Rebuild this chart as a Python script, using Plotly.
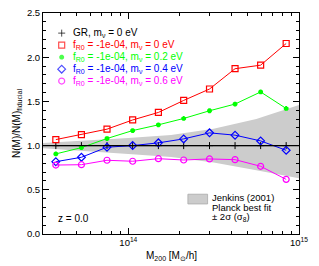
import plotly.graph_objects as go

# ---- data ----
mass = [3.76e13, 5.31e13, 7.50e13, 1.06e14, 1.50e14, 2.11e14, 2.99e14, 4.22e14, 5.96e14, 8.41e14]
ratio_gr = [1.0, 1.0, 1.0, 1.0, 1.0, 1.0, 1.0, 1.0, 1.0, 1.0]
ratio_m00 = [1.068, 1.125, 1.186, 1.29, 1.375, 1.511, 1.64, 1.87, 1.91, 2.155]
ratio_m02 = [0.906, 0.977, 1.08, 1.17, 1.235, 1.307, 1.394, 1.47, 1.607, 1.42]
ratio_m04 = [0.818, 0.868, 0.982, 1.0, 1.031, 1.076, 1.144, 1.118, 1.053, 0.947]
ratio_m06 = [0.78, 0.784, 0.834, 0.823, 0.852, 0.837, 0.849, 0.841, 0.766, 0.618]

band_mass = [3.16e13, 5.62e13, 1.0e14, 1.78e14, 3.16e14, 5.62e14, 1.0e15]
band_upper = [1.03, 1.055, 1.085, 1.12, 1.19, 1.30, 1.46]
band_lower = [0.97, 0.94, 0.905, 0.87, 0.81, 0.72, 0.63]

labels = [
    "GR, m<sub>ν</sub> = 0 eV",
    "f<sub>R0</sub> = -1e-04, m<sub>ν</sub> = 0 eV",
    "f<sub>R0</sub> = -1e-04, m<sub>ν</sub> = 0.2 eV",
    "f<sub>R0</sub> = -1e-04, m<sub>ν</sub> = 0.4 eV",
    "f<sub>R0</sub> = -1e-04, m<sub>ν</sub> = 0.6 eV",
]
colors = ["black", "#ff0000", "#00ff00", "#0000ff", "#ff00ff"]
symbols = ["cross-thin-open", "square-open", "asterisk-open", "diamond-open", "circle-open"]
series = [ratio_gr, ratio_m00, ratio_m02, ratio_m04, ratio_m06]

FONT = "Liberation Sans, Arial, sans-serif"
msize = [5, 6, 4, 6, 6]
mwidth = [1, 1.2, 2, 1.2, 1.2]

fig = go.Figure()

# Jenkins band
fig.add_trace(go.Scatter(x=band_mass, y=band_lower, mode="lines", line=dict(width=0, color="rgba(0,0,0,0)"),
                         showlegend=False, hoverinfo="skip"))
fig.add_trace(go.Scatter(x=band_mass, y=band_upper, mode="lines", line=dict(width=0, color="rgba(0,0,0,0)"),
                         fill="tonexty", fillcolor="#cccccc", showlegend=False, hoverinfo="skip"))

# reference line at 1
fig.add_shape(type="line", xref="paper", x0=0, x1=1, yref="y", y0=1, y1=1,
              line=dict(color="black", width=1.2))

for vals, col, sym, ms, mw in zip(series, colors, symbols, msize, mwidth):
    fig.add_trace(go.Scatter(
        x=mass, y=vals, mode="lines+markers",
        line=dict(color=col, width=1),
        marker=dict(symbol=sym, size=ms, color=col, line=dict(color=col, width=mw)),
        showlegend=False))

# custom legend markers on an overlay axis
leg_y = [0.909, 0.855, 0.800, 0.746, 0.692]
fig.add_trace(go.Scatter(
    x=[0.073] * 5, y=leg_y, xaxis="x2", yaxis="y2", mode="markers",
    marker=dict(symbol=symbols, size=msize, color=colors,
                line=dict(color=colors, width=mwidth)),
    showlegend=False, hoverinfo="skip"))

annotations = []
for lab, col, yy in zip(labels, colors, leg_y):
    annotations.append(dict(x=0.108, y=yy, xref="paper", yref="paper", text=lab, showarrow=False,
                            xanchor="left", yanchor="middle", font=dict(color=col, size=10, family=FONT)))

annotations.append(dict(x=0.052, y=0.071, xref="paper", yref="paper", text="z = 0.0", showarrow=False,
                        xanchor="left", yanchor="middle", font=dict(color="black", size=10, family=FONT)))

for txt, yy in zip(["Jenkins (2001)", "Planck best fit", "± 2σ (σ<sub>8</sub>)"], [0.167, 0.122, 0.079]):
    annotations.append(dict(x=0.653, y=yy, xref="paper", yref="paper", text=txt, showarrow=False,
                            xanchor="left", yanchor="middle", font=dict(color="black", size=9.5, family=FONT)))

# x-axis title
annotations.append(dict(x=0.5, y=-0.1, xref="paper", yref="paper", text="M<sub>200</sub> [M<sub>⊙</sub>/h]",
                        showarrow=False, xanchor="center", yanchor="middle",
                        font=dict(color="black", size=10, family=FONT)))

fig.add_shape(type="rect", xref="paper", yref="paper", x0=0.566, x1=0.643, y0=0.136, y1=0.180,
              fillcolor="#cccccc", line=dict(color="#aaaaaa", width=0.8))

fig.update_layout(
    width=319, height=266,
    margin=dict(l=43, r=20, t=13, b=32),
    paper_bgcolor="white", plot_bgcolor="white",
    font=dict(family=FONT, size=9.5, color="black"),
    annotations=annotations,
    showlegend=False,
    xaxis=dict(type="log", range=[13.5, 15.0], tickvals=[1e14, 1e15],
               ticktext=["10<sup>14</sup>", "10<sup>15</sup>"], automargin=False,
               ticks="inside", ticklen=6, tickcolor="black", showline=True, linecolor="black", linewidth=1,
               mirror="ticks", showgrid=False, zeroline=False,
               minor=dict(ticks="inside", ticklen=3, tickcolor="black", showgrid=False,
                          tickvals=[4e13, 5e13, 6e13, 7e13, 8e13, 9e13, 2e14, 3e14, 4e14, 5e14, 6e14, 7e14, 8e14, 9e14])),
    yaxis=dict(range=[0, 2.5], dtick=0.5, tickformat=".1f", automargin=False,
               ticks="inside", ticklen=6, tickcolor="black", showline=True, linecolor="black", linewidth=1,
               mirror="ticks", showgrid=False, zeroline=False,
               minor=dict(ticks="inside", ticklen=3, tickcolor="black", dtick=0.1, showgrid=False),
               title=dict(text="N(M)/N(M)<sub>fiducial</sub>", standoff=4, font=dict(size=10))),
    xaxis2=dict(overlaying="x", range=[0, 1], visible=False),
    yaxis2=dict(overlaying="y", range=[0, 1], visible=False),
)

fig.write_html("out.html", config={"displayModeBar": False},
               post_script="document.body.style.margin='0';document.body.style.padding='0';")
